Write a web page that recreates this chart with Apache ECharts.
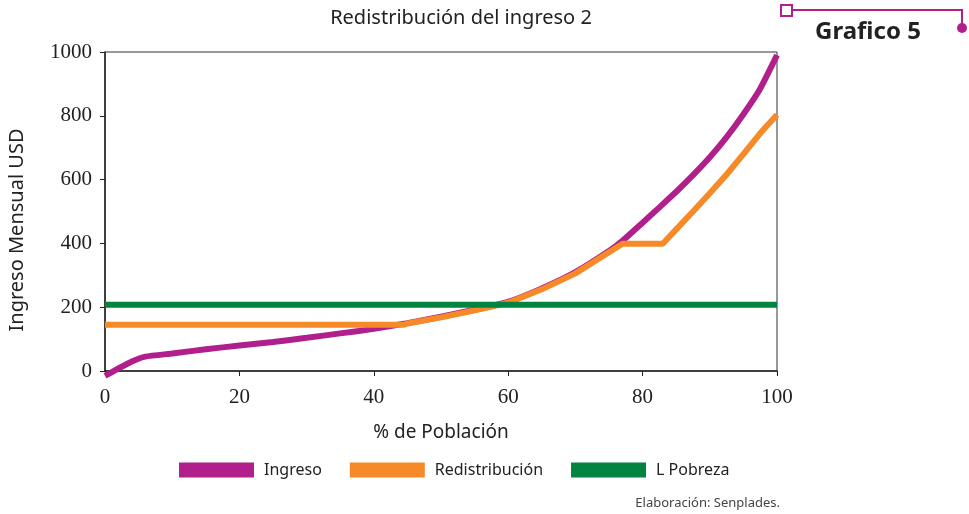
<!DOCTYPE html>
<html>
<head>
<meta charset="utf-8">
<script src="https://cdn.jsdelivr.net/npm/echarts@6/dist/echarts.min.js"></script>
<style>
  html, body { margin: 0; padding: 0; background: #fff; }
  #chart { width: 969px; height: 514px; }
</style>
</head>
<body>
<div id="chart"></div>
<script>
// % de población (eje x) y montos en USD
var pctIngreso = [0, 2, 4, 6, 10, 15, 20, 25, 30, 35, 40, 45, 50, 55, 60, 65, 70, 75, 77, 80, 82.5, 85, 87.5, 90, 92.5, 95, 97.5, 100];
var ingreso    = [-15, 8, 30, 45, 55, 68, 80, 91, 104, 118, 132, 150, 170, 192, 217, 259, 310, 376, 408, 465, 513, 562, 614, 670, 733, 805, 885, 990];

var pctRedis = [0, 44.5, 45, 50, 55, 60, 65, 70, 75, 77, 83, 85, 87.5, 90, 92.5, 95, 97.5, 100];
var redis    = [145, 145, 149, 168, 190, 214, 256, 306, 372, 399, 399, 444, 500, 557, 616, 680, 745, 803];

var pctPobreza = [0, 100];
var pobreza    = [208, 208];

var xTicks = [0, 20, 40, 60, 80, 100];
var yTicks = [0, 200, 400, 600, 800, 1000];

function pares(xs, ys) {
  return xs.map(function (x, i) { return [x, ys[i]]; });
}

var MAGENTA = '#b01f8c', NARANJA = '#f68a28', VERDE = '#00843f';
var sans = '"Noto Sans", "Open Sans", sans-serif';

var chart = echarts.init(document.getElementById('chart'));
chart.setOption({
  backgroundColor: '#fff',
  animation: false,
  title: {
    text: 'Redistribución del ingreso 2',
    left: 456, top: 3, textAlign: 'center',
    textStyle: { fontFamily: sans, fontSize: 20, fontWeight: 'normal', color: '#222' }
  },
  grid: {
    left: 105, right: 192, top: 52, bottom: 143,
    show: true, borderColor: '#333', borderWidth: 1
  },
  legend: {
    left: 179, top: 462, padding: 0,
    icon: 'rect', itemWidth: 75, itemHeight: 15, itemGap: 28,
    textStyle: { fontFamily: sans, fontSize: 16, color: '#222', padding: [0, 0, 0, 5] },
    data: ['Ingreso', 'Redistribución', 'L Pobreza']
  },
  xAxis: {
    type: 'value', min: 0, max: 100, interval: 20,
    name: '% de Población', nameLocation: 'middle', nameGap: 52,
    nameTextStyle: { fontFamily: sans, fontSize: 19, color: '#222' },
    axisLine: { show: true, lineStyle: { color: '#222', width: 1.5 } },
    axisTick: { show: true, length: 5, lineStyle: { color: '#222' } },
    axisLabel: {
      margin: 16, fontFamily: '"Liberation Serif", serif', fontSize: 21, color: '#222',
      formatter: function (v) { return xTicks.indexOf(v) >= 0 ? String(v) : ''; }
    },
    splitLine: { show: false }
  },
  yAxis: {
    type: 'value', min: 0, max: 1000, interval: 200,
    axisLine: { show: true, lineStyle: { color: '#222', width: 1.5 } },
    axisTick: { show: true, length: 5, lineStyle: { color: '#222' } },
    axisLabel: {
      margin: 13, fontFamily: '"Liberation Serif", serif', fontSize: 21, color: '#222',
      formatter: function (v) { return yTicks.indexOf(v) >= 0 ? String(v) : ''; }
    },
    splitLine: { show: false }
  },
  series: [
    {
      name: 'Ingreso', type: 'line', data: pares(pctIngreso, ingreso),
      showSymbol: false, clip: false, smooth: 0.15,
      lineStyle: { color: MAGENTA, width: 6 }, itemStyle: { color: MAGENTA }
    },
    {
      name: 'Redistribución', type: 'line', data: pares(pctRedis, redis),
      showSymbol: false, clip: false,
      lineStyle: { color: NARANJA, width: 6 }, itemStyle: { color: NARANJA }
    },
    {
      name: 'L Pobreza', type: 'line', data: pares(pctPobreza, pobreza),
      showSymbol: false, clip: false,
      lineStyle: { color: VERDE, width: 6, cap: 'butt' }, itemStyle: { color: VERDE }
    }
  ],
  graphic: [
    {
      type: 'text', x: 17, y: 230, rotation: Math.PI / 2,
      style: { text: 'Ingreso Mensual USD', font: '20px ' + sans, fill: '#222', textAlign: 'center', textVerticalAlign: 'middle' }
    },
    {
      type: 'text', x: 868, y: 32,
      style: { text: 'Grafico 5', font: 'bold 24px ' + sans, fill: '#222', textAlign: 'center', textVerticalAlign: 'middle' }
    },
    {
      type: 'rect', shape: { x: 781, y: 5, width: 11, height: 11 },
      style: { fill: '#fff', stroke: MAGENTA, lineWidth: 2 }
    },
    {
      type: 'polyline', shape: { points: [[792, 10], [962, 10], [962, 27]] },
      style: { fill: null, stroke: MAGENTA, lineWidth: 2 }
    },
    {
      type: 'circle', shape: { cx: 962, cy: 28, r: 5 },
      style: { fill: MAGENTA }
    },
    {
      type: 'text', x: 780, y: 503,
      style: { text: 'Elaboración: Senplades.', font: '13px ' + sans, fill: '#444', textAlign: 'right', textVerticalAlign: 'middle' }
    }
  ]
});
</script>
</body>
</html>
